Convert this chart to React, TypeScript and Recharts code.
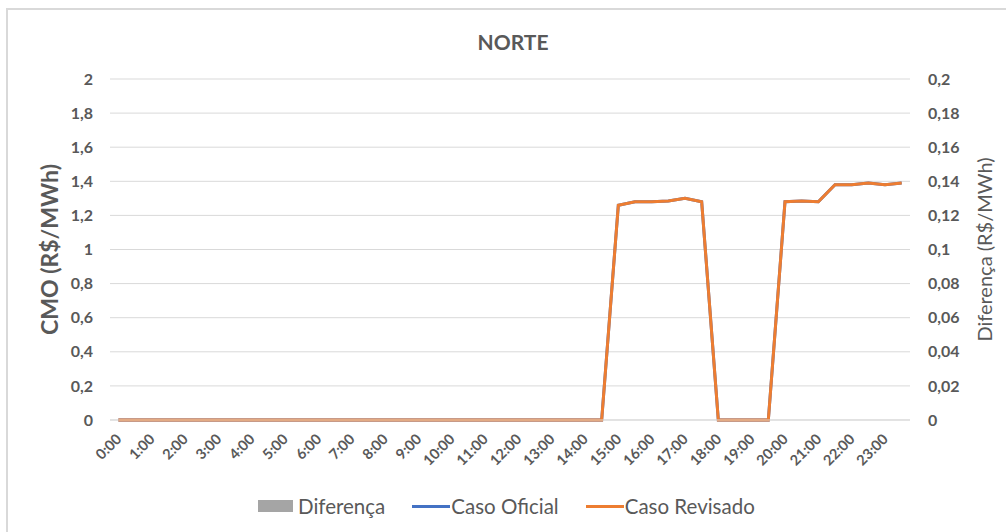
import { Bar, CartesianGrid, ComposedChart, Line, XAxis, YAxis } from "recharts";

const times = [
	"0:00", "0:30", "1:00", "1:30", "2:00", "2:30", "3:00", "3:30",
	"4:00", "4:30", "5:00", "5:30", "6:00", "6:30", "7:00", "7:30",
	"8:00", "8:30", "9:00", "9:30", "10:00", "10:30", "11:00", "11:30",
	"12:00", "12:30", "13:00", "13:30", "14:00", "14:30", "15:00", "15:30",
	"16:00", "16:30", "17:00", "17:30", "18:00", "18:30", "19:00", "19:30",
	"20:00", "20:30", "21:00", "21:30", "22:00", "22:30", "23:00", "23:30",
];

const casoOficial = [
	0, 0, 0, 0, 0, 0, 0, 0, 0, 0, 0, 0, 0, 0, 0, 0,
	0, 0, 0, 0, 0, 0, 0, 0, 0, 0, 0, 0, 0, 0, 1.26, 1.28,
	1.28, 1.285, 1.3, 1.28, 0, 0, 0, 0, 1.28, 1.285, 1.28, 1.38, 1.38, 1.39, 1.38, 1.39,
];

const casoRevisado = [
	0, 0, 0, 0, 0, 0, 0, 0, 0, 0, 0, 0, 0, 0, 0, 0,
	0, 0, 0, 0, 0, 0, 0, 0, 0, 0, 0, 0, 0, 0, 1.26, 1.28,
	1.28, 1.285, 1.3, 1.28, 0, 0, 0, 0, 1.28, 1.285, 1.28, 1.38, 1.38, 1.39, 1.38, 1.39,
];

const diferenca = [
	0, 0, 0, 0, 0, 0, 0, 0, 0, 0, 0, 0, 0, 0, 0, 0,
	0, 0, 0, 0, 0, 0, 0, 0, 0, 0, 0, 0, 0, 0, 0, 0,
	0, 0, 0, 0, 0, 0, 0, 0, 0, 0, 0, 0, 0, 0, 0, 0,
];

const leftTicks = [0, 0.2, 0.4, 0.6, 0.8, 1, 1.2, 1.4, 1.6, 1.8, 2];
const rightTicks = [0, 0.02, 0.04, 0.06, 0.08, 0.1, 0.12, 0.14, 0.16, 0.18, 0.2];

const data = times.map((t, i) => ({
	t,
	dif: diferenca[i],
	oficial: casoOficial[i],
	revisado: casoRevisado[i],
}));

const FONT = "Lato, 'Open Sans', sans-serif";
const TEXT = "#595959";
const GRID = "#d9d9d9";

const fmt = (v: number) => String(v).replace(".", ",");

function XTick({ x, y, payload }: any) {
	const ax = x + 4;
	const ay = y + 18;
	return (
		<text
			x={ax}
			y={ay}
			transform={`rotate(-45 ${ax} ${ay})`}
			textAnchor="end"
			fill={TEXT}
			fontSize={14.5}
			fontWeight="bold"
			fontFamily={FONT}
		>
			{payload.value}
		</text>
	);
}

function LegendItem({ kind, color, label }: { kind: "box" | "line"; color: string; label: string }) {
	return (
		<div style={{ display: "flex", alignItems: "center" }}>
			{kind === "box" ? (
				<div style={{ width: 35, height: 12, background: color, marginRight: 5 }} />
			) : (
				<div style={{ width: 38, height: 3, background: color, marginRight: 1 }} />
			)}
			<span>{label}</span>
		</div>
	);
}

export default function App() {
	return (
		<div
			style={{
				position: "fixed",
				left: 0,
				top: 0,
				width: 1006,
				height: 532,
				overflow: "hidden",
				background: "#fff",
				fontFamily: FONT,
			}}
		>
			<div
				style={{
					position: "absolute",
					left: 6,
					top: 8,
					width: 1100,
					height: 600,
					borderLeft: `2px solid ${GRID}`,
					borderTop: `2px solid ${GRID}`,
				}}
			/>
			<div
				style={{
					position: "absolute",
					left: 0,
					width: 1026,
					top: 29,
					textAlign: "center",
					fontSize: 21,
					fontWeight: "bold",
					color: TEXT,
				}}
			>
				NORTE
			</div>
			<div style={{ position: "absolute", left: 0, top: 0 }}>
				<ComposedChart
					width={1006}
					height={532}
					data={data}
					margin={{ top: 79, right: 0, bottom: 0, left: 0 }}
					barCategoryGap="50%"
				>
					<CartesianGrid horizontal vertical={false} stroke={GRID} yAxisId="left" />
					<XAxis
						dataKey="t"
						interval={1}
						height={112}
						tickLine={false}
						tickSize={0}
						axisLine={{ stroke: GRID }}
						tick={<XTick />}
					/>
					<YAxis
						yAxisId="left"
						orientation="left"
						width={110}
						domain={[0, 2]}
						ticks={leftTicks}
						tickFormatter={fmt}
						axisLine={false}
						tickLine={false}
						tickSize={0}
						tickMargin={17}
						tick={{ fill: TEXT, fontSize: 16, fontWeight: "bold", fontFamily: FONT }}
						label={{
							value: "CMO (R$/MWh)",
							angle: -90,
							position: "insideLeft",
							dx: 45,
							dy: 0,
							style: { fill: TEXT, fontSize: 23, fontWeight: "bold", fontFamily: FONT, textAnchor: "middle" },
						}}
					/>
					<YAxis
						yAxisId="right"
						orientation="right"
						width={96}
						domain={[0, 0.2]}
						ticks={rightTicks}
						tickFormatter={fmt}
						axisLine={false}
						tickLine={false}
						tickSize={0}
						tickMargin={18}
						tick={{ fill: TEXT, fontSize: 16, fontWeight: "bold", fontFamily: FONT, textAnchor: "start" }}
						label={{
							value: "Diferença (R$/MWh)",
							angle: -90,
							position: "insideRight",
							dx: -16,
							dy: 0,
							style: { fill: TEXT, fontSize: 20, fontFamily: FONT, textAnchor: "middle" },
						}}
					/>
					<Bar yAxisId="right" dataKey="dif" fill="#a5a5a5" isAnimationActive={false} />
					<Line
						yAxisId="left"
						type="linear"
						dataKey="oficial"
						stroke="#4472c4"
						strokeWidth={3}
						dot={false}
						isAnimationActive={false}
					/>
					<Line
						yAxisId="left"
						type="linear"
						dataKey="revisado"
						stroke="#ed7d31"
						strokeWidth={3}
						dot={false}
						isAnimationActive={false}
					/>
				</ComposedChart>
			</div>
			<div
				style={{
					position: "absolute",
					top: 494,
					left: 258,
					display: "flex",
					gap: 27,
					fontSize: 20.5,
					color: TEXT,
				}}
			>
				<LegendItem kind="box" color="#a5a5a5" label="Diferença" />
				<LegendItem kind="line" color="#4472c4" label="Caso Oficial" />
				<LegendItem kind="line" color="#ed7d31" label="Caso Revisado" />
			</div>
		</div>
	);
}
